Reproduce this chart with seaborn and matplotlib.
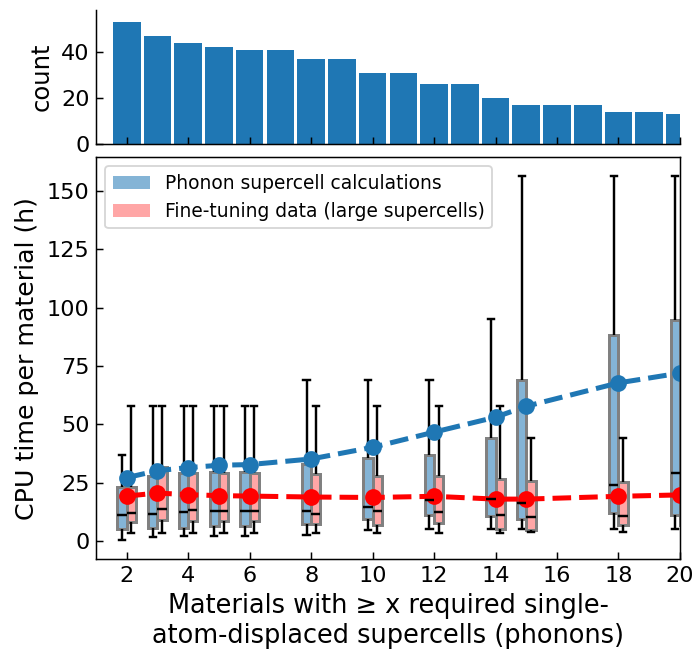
import matplotlib

matplotlib.use("Agg")
import matplotlib.pyplot as plt
import numpy as np
import pandas as pd
import seaborn as sns
from matplotlib.patches import Patch

DPI = 134
plt.rcParams["xtick.direction"] = "in"
plt.rcParams["ytick.direction"] = "in"
plt.rcParams["xtick.labelsize"] = 12
plt.rcParams["ytick.labelsize"] = 12

PHONON = "Phonon supercell calculations"
FT     = "Fine-tuning data (large supercells)"
BLUE_BOX = "#84b4d6"
RED_BOX  = "#ffa6a6"

# top panel: materials with >= x required supercells
n_supercells = list(range(2, 21))
n_materials  = [53, 47, 44, 42, 41, 41, 37, 37, 31, 31, 26, 26, 20, 17, 17, 17, 14, 14, 13]

# bottom panel: CPU time summaries (h)
box_x = [2, 3, 4, 5, 6, 8, 10, 12, 14, 15, 18, 20]

ph_min  = [0.3, 1.8, 2.4, 2.4, 2.4, 2.8, 4.7, 5.3, 5.3, 5.3, 5.3, 5.3]
ph_q1   = [5.3, 5.5, 5.8, 6.3, 6.3, 7.2, 9.5, 11.4, 10.7, 9.5, 12.0, 11.4]
ph_med  = [11.2, 11.6, 12.4, 12.9, 12.9, 13.1, 14.8, 17.5, 18.0, 16.3, 24.1, 29.0]
ph_q3   = [23.2, 28.0, 29.4, 29.7, 29.7, 33.1, 35.8, 36.8, 44.3, 69.0, 88.3, 94.7]
ph_max  = [37.0, 57.8, 57.8, 57.8, 57.8, 69.0, 69.0, 69.0, 95.0, 156.5, 156.5, 156.5]
ph_mean = [27.2, 30.2, 31.5, 32.5, 32.8, 35.2, 40.2, 46.7, 53.1, 57.8, 67.8, 72.0]

ft_min  = [3.6, 3.6, 3.6, 3.6, 3.6, 3.6, 3.6, 3.6, 3.6, 3.8, 3.8, 3.8]
ft_q1   = [8.1, 9.1, 8.5, 8.5, 8.5, 7.5, 6.7, 7.8, 5.3, 4.7, 6.7, 6.7]
ft_med  = [11.9, 13.6, 13.2, 12.9, 12.9, 11.8, 13.1, 12.6, 11.2, 10.2, 10.8, 10.8]
ft_q3   = [23.0, 31.7, 29.4, 29.4, 29.4, 28.8, 27.7, 28.1, 26.7, 25.7, 25.4, 25.4]
ft_max  = [57.8, 57.8, 57.8, 57.8, 57.8, 57.8, 57.8, 57.8, 57.8, 44.0, 44.0, 44.0]
ft_mean = [19.3, 20.6, 19.9, 19.5, 19.3, 18.9, 18.7, 19.2, 18.0, 18.0, 19.2, 19.8]


def five_num(label, mins, q1s, meds, q3s, maxs):
    # five values per box -> quartiles and whisker ends come out exactly
    rows = []
    for i, x in enumerate(box_x):
        for v in (mins[i], q1s[i], meds[i], q3s[i], maxs[i]):
            rows.append({"x": x, "cpu_h": v, "set": label})
    return rows


df = pd.DataFrame(
    five_num(PHONON, ph_min, ph_q1, ph_med, ph_q3, ph_max)
    + five_num(FT, ft_min, ft_q1, ft_med, ft_q3, ft_max)
)

fig = plt.figure(figsize=(693 / DPI, 650 / DPI), dpi=DPI)
ax_top = fig.add_axes([0.1385, 0.7785, 0.8427, 0.2061])
ax = fig.add_axes([0.1385, 0.1395, 0.8427, 0.6190])

# counts
sns.barplot(
    x=n_supercells, y=n_materials, native_scale=True, width=0.9,
    color="tab:blue", saturation=1, errorbar=None, ax=ax_top,
)
ax_top.set_xlim(1, 20)
ax_top.set_ylim(0, 58.3)
ax_top.set_xticks(range(2, 21, 2))
ax_top.set_xticklabels([])
ax_top.set_yticks([0, 20, 40])
ax_top.set_ylabel("count", fontsize=13)
ax_top.set_xlabel("")
ax_top.spines["top"].set_visible(False)
ax_top.spines["right"].set_visible(False)

# boxes
sns.boxplot(
    data=df, x="x", y="cpu_h", hue="set", hue_order=[PHONON, FT],
    palette={PHONON: BLUE_BOX, FT: RED_BOX}, saturation=1,
    native_scale=True, dodge=True, width=0.6, gap=0, whis=np.inf,
    linecolor="black", linewidth=1.3, legend=False, ax=ax,
    boxprops={"edgecolor": "0.5", "linewidth": 1.6},
    capwidths=0.2,
)

# means
sns.lineplot(
    x=box_x, y=ph_mean, color="tab:blue", linestyle="--", linewidth=2.7,
    marker="o", markersize=9, markeredgewidth=0, ax=ax,
)
sns.lineplot(
    x=box_x, y=ft_mean, color="red", linestyle="--", linewidth=2.7,
    marker="o", markersize=9, markeredgewidth=0, ax=ax,
)

ax.set_xlim(1, 20)
ax.set_ylim(-7.8, 164.6)
ax.set_xticks(range(2, 21, 2))
ax.set_xticklabels([str(v) for v in range(2, 21, 2)])
ax.set_yticks(range(0, 151, 25))
ax.set_xlabel(
    "Materials with \u2265 x required single-\natom-displaced supercells (phonons)",
    fontsize=13.8,
)
ax.set_ylabel("CPU time per material (h)", fontsize=13.6)

ax.legend(
    handles=[Patch(facecolor=BLUE_BOX, label=PHONON), Patch(facecolor=RED_BOX, label=FT)],
    loc="upper left",
)

plt.savefig("out.png", dpi=DPI)
plt.close()
